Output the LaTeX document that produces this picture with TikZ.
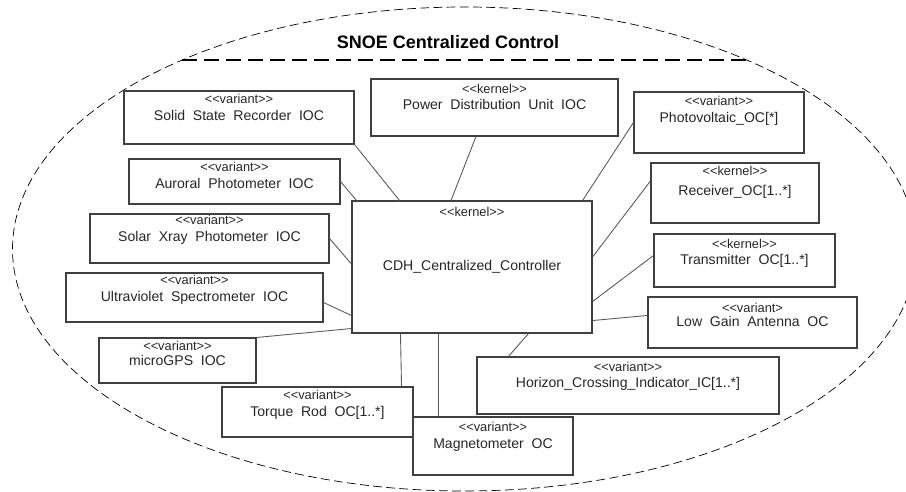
\documentclass[tikz,border=0pt]{standalone}
\usepackage{fontspec}
\setmainfont{Liberation Sans}[Ligatures=TeXOff]
\usetikzlibrary{positioning}
\newcommand{\stereofont}{\fontsize{7.3}{8}\selectfont}
\newcommand{\stereo}[1]{{\stereofont<<#1>>}}
\newcommand{\namefont}{\fontsize{8}{9.6}\selectfont\spaceskip=0.55em\relax}

\begin{document}
\begin{tikzpicture}[
        box/.style={draw=black!75, line width=0.6pt, rectangle, inner sep=0pt},
        txt/.style={align=center, inner sep=0pt, text=black!85, font=\namefont},
        link/.style={draw=black!65, line width=0.5pt}]
        \useasboundingbox (0, 0) rectangle (18.12, 9.84);
        \draw[dash pattern=on 5pt off 2.5pt] (9.29, 4.86) ellipse (9.04cm and 4.84cm);
        \draw[line width=0.7pt, dash pattern=on 8.5pt off 4pt] (3.64, 8.64) -- (14.94, 8.64);
        \node[font=\fontsize{10.25}{12}\selectfont\bfseries] (title) at (8.96, 9.0) {SNOE Centralized Control};

        \node[box, minimum width=4.8cm, minimum height=2.64cm, text=black!85, font=\namefont] (cdh) at (9.44, 4.5) {CDH\_Centralized\_Controller};
        \node[txt, below=3.5pt of cdh.north] (cdh-s) {\stereo{kernel}};

        \node[box, minimum width=4.6cm, minimum height=1.06cm] (ssr) at (4.78, 7.49) {};
        \node[box, minimum width=4.22cm, minimum height=0.9cm] (apm) at (4.69, 6.21) {};
        \node[box, minimum width=4.78cm, minimum height=0.98cm] (sxp) at (4.19, 5.07) {};
        \node[box, minimum width=5.14cm, minimum height=0.98cm] (uvs) at (3.89, 3.89) {};
        \node[box, minimum width=3.14cm, minimum height=0.9cm] (gps) at (3.55, 2.63) {};
        \node[box, minimum width=3.82cm, minimum height=1.0cm] (trq) at (6.35, 1.6) {};
        \node[box, minimum width=3.2cm, minimum height=1.16cm] (mag) at (9.86, 0.92) {};
        \node[box, minimum width=6.04cm, minimum height=1.14cm] (hci) at (12.56, 2.13) {};
        \node[box, minimum width=4.18cm, minimum height=1.02cm] (lga) at (15.05, 3.39) {};
        \node[box, minimum width=3.62cm, minimum height=1.06cm] (tx) at (14.89, 4.63) {};
        \node[box, minimum width=3.36cm, minimum height=1.2cm] (rx) at (14.7, 5.98) {};
        \node[box, minimum width=3.4cm, minimum height=1.22cm] (pv) at (14.38, 7.39) {};
        \node[box, minimum width=4.94cm, minimum height=1.14cm] (pdu) at (9.89, 7.69) {};

        \node[txt, below=2.1pt of ssr.north] (ssr-t) {\stereo{variant}\\Solid State Recorder IOC};
        \node[txt, below=2.1pt of apm.north] (apm-t) {\stereo{variant}\\Auroral Photometer IOC};
        \node[txt, below=0.8pt of sxp.north] (sxp-t) {\stereo{variant}\\Solar Xray Photometer IOC};
        \node[txt, below=1.6pt of uvs.north] (uvs-t) {\stereo{variant}\\Ultraviolet Spectrometer IOC};
        \node[txt, below=2.1pt of gps.north] (gps-t) {\stereo{variant}\\[-1.5pt]microGPS IOC};
        \node[txt, below=2.1pt of trq.north] (trq-t) {\stereo{variant}\\Torque Rod OC[1..*]};
        \node[txt, below=3pt of mag.north] (mag-t) {\stereo{variant}\\Magnetometer OC};
        \node[txt, below=2.8pt of hci.north] (hci-t) {\stereo{variant}\\Horizon\_Crossing\_Indicator\_IC[1..*]};
        \node[txt, below=3.5pt of lga.north] (lga-t) {{\stereofont<<variant>}\\[-1.6pt]Low Gain Antenna OC};
        \node[txt, below=2.8pt of tx.north] (tx-t) {\stereo{kernel}\\Transmitter OC[1..*]};
        \node[txt, below=2.1pt of rx.north] (rx-t) {\stereo{kernel}\\[1.5pt]Receiver\_OC[1..*]};
        \node[txt, below=2.5pt of pv.north] (pv-t) {\stereo{variant}\\Photovoltaic\_OC[*]};
        \node[txt, below=2.8pt of pdu.north] (pdu-t) {\stereo{kernel}\\Power Distribution Unit IOC};

        \draw[link] (ssr.south east) -- ([xshift=0.96cm]cdh.north west);
        \draw[link] (apm.east) -- ([xshift=0.1cm]cdh.north west);
        \draw[link] (sxp.east) -- ([yshift=0.06cm]cdh.west);
        \draw[link] ([yshift=-0.1cm]uvs.east) -- ([yshift=0.36cm]cdh.south west);
        \draw[link] (gps.north east) -- ([yshift=0.1cm]cdh.south west);
        \draw[link] ([xshift=0.98cm]cdh.south west) -- ([xshift=-0.24cm]trq.north east);
        \draw[link] ([xshift=1.74cm]cdh.south west) -- ([xshift=0.52cm]mag.north west);
        \draw[link] ([xshift=-1.28cm]cdh.south east) -- ([xshift=0.64cm]hci.north west);
        \draw[link] ([yshift=0.26cm]cdh.south east) -- ([yshift=0.14cm]lga.west);
        \draw[link] ([yshift=0.64cm]cdh.south east) -- ([yshift=0.1cm]tx.west);
        \draw[link] ([yshift=0.2cm]cdh.east) -- ([yshift=0.24cm]rx.west);
        \draw[link] ([xshift=-0.2cm]cdh.north east) -- (pv.west);
        \draw[link] ([xshift=-0.42cm]cdh.north) -- ([xshift=-0.37cm]pdu.south);
    \end{tikzpicture}
\end{document}
